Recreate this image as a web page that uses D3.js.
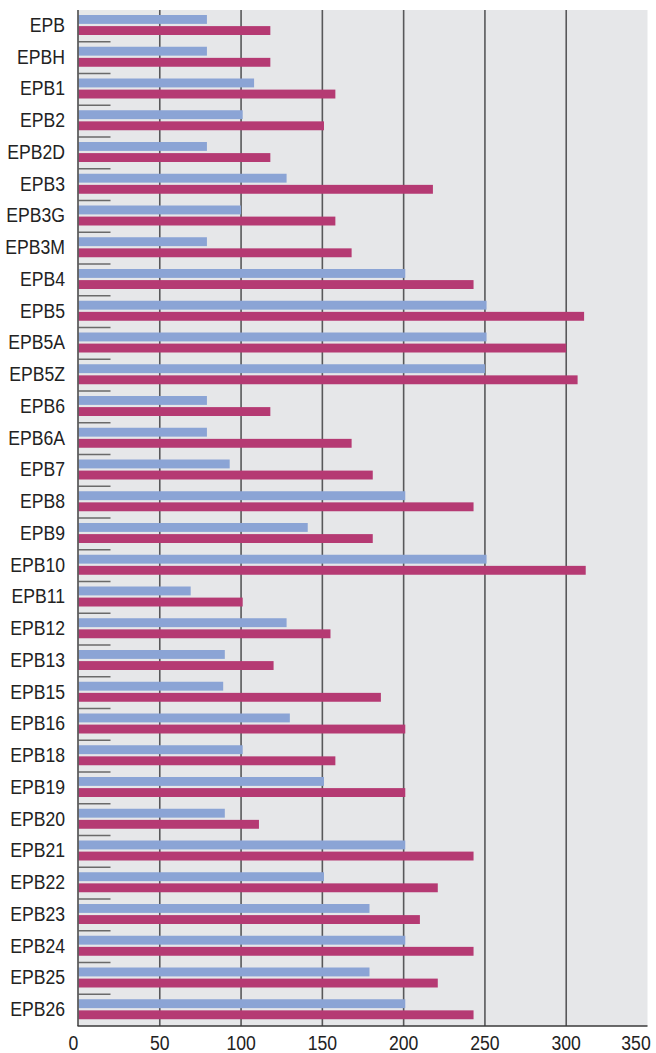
<!DOCTYPE html>
<html>
<head>
<meta charset="utf-8">
<script src="https://d3js.org/d3.v7.min.js"></script>
<style>
  body { margin: 0; background: #fff; }
  text { font-family: "Liberation Sans", Arial, sans-serif; fill: #222; }
</style>
</head>
<body>
<script>
// category names, top to bottom
var categories = ["EPB","EPBH","EPB1","EPB2","EPB2D","EPB3","EPB3G","EPB3M","EPB4","EPB5","EPB5A","EPB5Z",
  "EPB6","EPB6A","EPB7","EPB8","EPB9","EPB10","EPB11","EPB12","EPB13","EPB15","EPB16","EPB18",
  "EPB19","EPB20","EPB21","EPB22","EPB23","EPB24","EPB25","EPB26"];

// blue series (upper bar in each row)
var blueValues = [79,79,108,101,79,128,100,79,201,251,251,250,
  79,79,93,201,141,251,69,128,90,89,130,101,
  151,90,201,151,179,201,179,201];

// magenta series (lower bar in each row)
var redValues = [118,118,158,151,118,218,158,168,243,311,300,307,
  118,168,181,243,181,312,101,155,120,186,201,158,
  201,111,243,221,210,243,221,243];

var xTicks = [0,50,100,150,200,250,300,350];

var width = 656, height = 1053;
// note: "top" is taken by window.top, so use plotTop etc.
var plotLeft = 78.5, plotRight = 647.5, plotTop = 10, plotBottom = 1026;
var squeeze = 0.86; // labels in the original use a condensed face

var svg = d3.select("body").append("svg").attr("width", width).attr("height", height);

var x = d3.scaleLinear().domain([0, 350]).range([plotLeft, plotRight]);
var y = d3.scaleBand().domain(categories).range([plotTop, plotBottom]).padding(0);
var inner = d3.scaleBand().domain(["blue", "red"]).range([5, 25]).paddingInner(0.2);

// plot background
svg.append("rect")
  .attr("x", plotLeft).attr("y", plotTop)
  .attr("width", plotRight - plotLeft).attr("height", plotBottom - plotTop)
  .attr("fill", "#e6e7e9");

// vertical gridlines
svg.selectAll("line.grid").data(xTicks.slice(1, -1)).enter().append("line")
  .attr("class", "grid")
  .attr("x1", function(d){ return x(d) }).attr("x2", function(d){ return x(d) })
  .attr("y1", plotTop).attr("y2", plotBottom)
  .attr("stroke", "#58585a").attr("stroke-width", 1.6);

// bars
var rows = svg.selectAll("g.row").data(categories).enter().append("g")
  .attr("class", "row")
  .attr("transform", function(d){ return "translate(0," + y(d) + ")" });

rows.append("rect")
  .attr("x", x(0))
  .attr("y", inner("blue"))
  .attr("height", inner.bandwidth())
  .attr("width", function(d, i){ return x(blueValues[i]) - x(0) })
  .attr("fill", "#8ba4d5");

rows.append("rect")
  .attr("x", x(0))
  .attr("y", inner("red"))
  .attr("height", inner.bandwidth())
  .attr("width", function(d, i){ return x(redValues[i]) - x(0) })
  .attr("fill", "#b53a73");

// short separators between rows
svg.selectAll("line.sep").data(categories.slice(1)).enter().append("line")
  .attr("class", "sep")
  .attr("x1", plotLeft).attr("x2", plotLeft + 32)
  .attr("y1", function(d){ return y(d) }).attr("y2", function(d){ return y(d) })
  .attr("stroke", "#6a6a6a").attr("stroke-width", 1.3);

// category labels
rows.append("text")
  .attr("transform", "translate(65,21.8) scale(" + squeeze + ",1)")
  .attr("text-anchor", "end")
  .style("font-size", "20.5px")
  .text(function(d){ return d });

// axis lines
svg.append("line")
  .attr("x1", plotLeft - 0.5).attr("x2", plotLeft - 0.5).attr("y1", plotTop).attr("y2", plotBottom)
  .attr("stroke", "#4a4a4a").attr("stroke-width", 1.6);
svg.append("line")
  .attr("x1", plotLeft - 1).attr("x2", plotRight).attr("y1", plotBottom).attr("y2", plotBottom)
  .attr("stroke", "#3a3a3a").attr("stroke-width", 1.6);

// x tick labels
svg.selectAll("text.tick").data(xTicks).enter().append("text")
  .attr("class", "tick")
  .attr("transform", function(d, i){
    var tx = x(d);
    if (i == 0) tx = x(d) - 5;
    if (i == xTicks.length - 1) tx = 636;
    return "translate(" + tx + ",1050) scale(" + squeeze + ",1)";
  })
  .attr("text-anchor", "middle")
  .style("font-size", "20.5px")
  .text(function(d){ return d });
</script>
</body>
</html>
